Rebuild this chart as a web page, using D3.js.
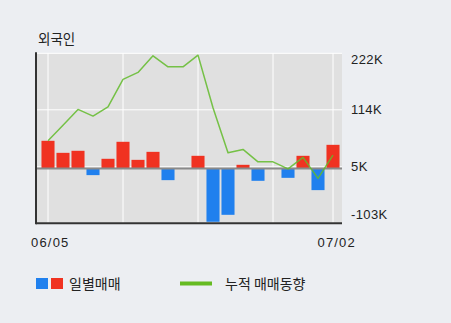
<!DOCTYPE html>
<html><head><meta charset="utf-8">
<script src="https://cdn.jsdelivr.net/npm/d3@7"></script>
<style>
html,body{margin:0;padding:0;background:#eceef2;}
svg{display:block;font-family:"Noto Sans CJK KR","Noto Sans",sans-serif;}
</style></head>
<body><svg id="c" width="451" height="323"></svg>
<script>
const dates = ["06/05","06/06","06/07","06/08","06/09","06/10","06/11","06/12","06/13","06/14","06/15","06/16","06/17","06/18","06/19","06/20","06/21","06/22","06/23","07/02"];
const xLabels = ["06/05","07/02"];
const daily = [52.8, 29.8, 33.7, -12.8, 18.4, 50.9, 16.4, 31.7, -22.4, 0, 24.1, -102, -88.7, 6.9, -23.7, 0, -18, 24.1, -41.5, 45.1];
const cumulative = [52.8, 82.7, 112.8, 100, 117.8, 170.2, 183.6, 215.3, 194.3, 194.3, 216.6, 116, 29.8, 36.3, 12.6, 12.6, -1, 21, -19, 25.4];
const yTicks = [-103, 5, 114, 222];
const yTickLabels = ["-103K","5K","114K","222K"];
const gridIdx = [0, 5, 10, 15, 19];

const svg = d3.select("#c");
const L = 36, R = 342, T = 53.3, B = 223.3;

const x = d3.scalePoint().domain(d3.range(dates.length)).range([48, 333]);
const bw = x.step() * 0.87;
const y = d3.scaleLinear().domain([-103, 222]).range([B, T]);
const y0 = y(0) - 1;

// plot background
svg.append("rect").attr("x", L).attr("y", T).attr("width", R - L).attr("height", B - T).attr("fill", "#e0e0e0");

// horizontal grid
svg.append("g").selectAll("line").data(yTicks).join("line")
  .attr("x1", L).attr("x2", R).attr("y1", d => y(d)).attr("y2", d => y(d))
  .attr("stroke", "#ffffff").attr("stroke-width", 1);
// vertical grid
svg.append("g").selectAll("line").data(gridIdx).join("line")
  .attr("x1", d => x(d)).attr("x2", d => x(d)).attr("y1", T).attr("y2", B)
  .attr("stroke", "#ffffff").attr("stroke-width", 1);

// bars
svg.append("g").selectAll("rect").data(daily).join("rect")
  .attr("x", (d, i) => x(i) - bw / 2)
  .attr("width", bw)
  .attr("y", d => d >= 0 ? y0 - (y(0) - y(d)) : y0)
  .attr("height", d => Math.abs(y(d) - y(0)))
  .attr("fill", d => d >= 0 ? "#f03221" : "#2080ee");

// zero line
svg.append("line").attr("x1", L).attr("x2", R).attr("y1", y0).attr("y2", y0)
  .attr("stroke", "#8a8a8a").attr("stroke-width", 2);

// cumulative line
const line = d3.line().x((d, i) => x(i)).y(d => y(d) - 1);
svg.append("path").datum(cumulative).attr("d", line)
  .attr("fill", "none").attr("stroke", "#62bb2a").attr("stroke-width", 1.5)
  .attr("stroke-opacity", 0.85).attr("stroke-linejoin", "round");

// axes lines
svg.append("line").attr("x1", L).attr("x2", L).attr("y1", T - 1).attr("y2", B + 1)
  .attr("stroke", "#333").attr("stroke-width", 2);
svg.append("line").attr("x1", L).attr("x2", R).attr("y1", B).attr("y2", B)
  .attr("stroke", "#333").attr("stroke-width", 2);

// y labels (right)
const labelShift = [-9, 0, 0, 6];
const yAxis = d3.axisRight(y).tickValues(yTicks).tickFormat((d, i) => yTickLabels[i]).tickSize(0).tickPadding(0);
const ga = svg.append("g").attr("transform", `translate(${351},0)`).call(yAxis);
ga.select(".domain").remove();
ga.selectAll("text").attr("font-size", 13).attr("fill", "#222")
  .attr("font-family", "Arial, 'Liberation Sans', sans-serif")
  .attr("letter-spacing", 0.4)
  .attr("transform", (d, i) => `translate(0,${labelShift[i]})`);

// x labels
svg.append("text").attr("x", 31).attr("y", 247).attr("font-size", 13).attr("fill", "#222")
  .attr("font-family", "Arial, 'Liberation Sans', sans-serif").attr("letter-spacing", 1.2).text(xLabels[0]);
svg.append("text").attr("x", 356).attr("y", 247).attr("text-anchor", "end").attr("font-size", 13).attr("fill", "#222")
  .attr("font-family", "Arial, 'Liberation Sans', sans-serif").attr("letter-spacing", 1.2).text(xLabels[1]);

// title
svg.append("text").attr("x", 38).attr("y", 44).attr("font-size", 13.5).attr("fill", "#222").text("외국인");

// legend
svg.append("rect").attr("x", 36).attr("y", 278).attr("width", 12).attr("height", 11).attr("fill", "#2080ee");
svg.append("rect").attr("x", 51).attr("y", 278).attr("width", 12).attr("height", 11).attr("fill", "#f03221");
svg.append("text").attr("x", 69).attr("y", 289).attr("font-size", 14).attr("fill", "#222").text("일별매매");
svg.append("line").attr("x1", 180).attr("x2", 212).attr("y1", 283.5).attr("y2", 283.5)
  .attr("stroke", "#66bb22").attr("stroke-width", 4);
svg.append("text").attr("x", 225).attr("y", 289).attr("font-size", 14).attr("fill", "#222").text("누적 매매동향");
</script></body></html>
